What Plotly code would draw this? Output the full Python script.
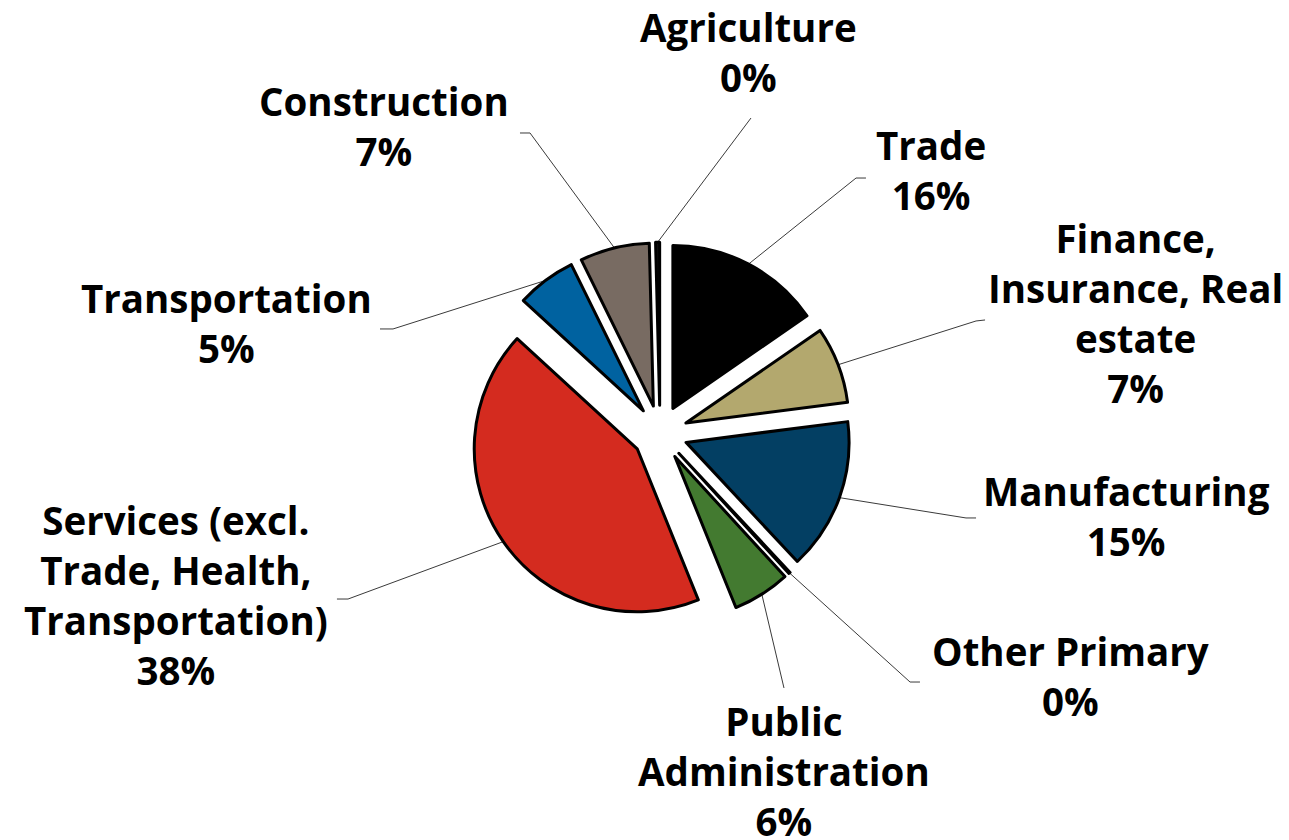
import math
import plotly.graph_objects as go

# ---------------- data ----------------
categories = ["Trade", "Finance, Insurance, Real estate", "Manufacturing", "Other Primary",
              "Public Administration", "Services (excl. Trade, Health, Transportation)",
              "Transportation", "Construction", "Agriculture"]
# slice shares as drawn
shares = [15.4, 7.6, 15.1, 0.15, 5.7, 43.0, 5.9, 6.9, 0.4]
# percentage shown in each label
pct_labels = ["16%", "7%", "15%", "0%", "6%", "38%", "5%", "7%", "0%"]
# label text lines
label_text = ["Trade", "Finance,<br>Insurance, Real<br>estate", "Manufacturing", "Other Primary",
              "Public<br>Administration", "Services (excl.<br>Trade, Health,<br>Transportation)",
              "Transportation", "Construction", "Agriculture"]

colors = ["#000000", "#B3A86E", "#033F63", "#1A1A1A", "#437A30",
          "#D42B1F", "#0062A0", "#786B62", "#111111"]

# ---------------- layout constants ----------------
W, H = 1289, 840
CX, CY = 652, 425          # pie centre (px)
R = 163                    # pie radius (px)
PULL = 0.17
box = 2 * R * (1 + PULL)
dom_x = [(CX - box / 2) / W, (CX + box / 2) / W]
dom_y = [1 - (CY + box / 2) / H, 1 - (CY - box / 2) / H]

# label block centres (px) and leader-line elbow/end points (px)
label_pos = [(923, 162), (1127, 305), (1118, 508), (1062, 668), (776, 763),
             (168, 587), (218, 315), (376, 118), (740, 44)]
leader_pts = [[(848, 170), (858, 170)],
              [(968, 313), (977, 312)],
              [(958, 510), (968, 510)],
              [(902, 674), (912, 674)],
              [(776, 680)],
              [(340, 591), (329, 591)],
              [(385, 321), (372, 321)],
              [(522, 125), (512, 125)],
              [(743, 110)]]

FONT = dict(family="'Open Sans', Lato, sans-serif", size=38.5, color="#000000", weight="bold")


def px(x, y):
    return x / W, 1 - y / H


fig = go.Figure(go.Pie(
    labels=categories, values=shares, sort=False, direction="clockwise", rotation=0,
    pull=[PULL] * len(shares), textinfo="none", hoverinfo="label+percent",
    marker=dict(colors=colors, line=dict(color="#000000", width=3)),
    domain=dict(x=dom_x, y=dom_y), showlegend=False,
))

total = sum(shares)
cum = 0.0
shapes, annotations = [], []
for i, v in enumerate(shares):
    mid = (cum + v / 2) / total * 2 * math.pi
    cum += v
    rr = R * (1 + PULL)
    sx, sy = CX + rr * math.sin(mid), CY - rr * math.cos(mid)
    pts = [(sx, sy)] + leader_pts[i]
    path = "M " + " L ".join("%.4f,%.4f" % px(x, y) for x, y in pts)
    shapes.append(dict(type="path", path=path, xref="paper", yref="paper", layer="below",
                       line=dict(color="#3a3a3a", width=1)))
    lx, ly = px(*label_pos[i])
    annotations.append(dict(text=label_text[i] + "<br>" + pct_labels[i], x=lx, y=ly,
                            xref="paper", yref="paper", xanchor="center", yanchor="middle",
                            align="center", showarrow=False, font=FONT))

fig.update_layout(width=W, height=H, margin=dict(l=0, r=0, t=0, b=0),
                  paper_bgcolor="white", plot_bgcolor="white",
                  shapes=shapes, annotations=annotations)
fig.write_html("out.html")
